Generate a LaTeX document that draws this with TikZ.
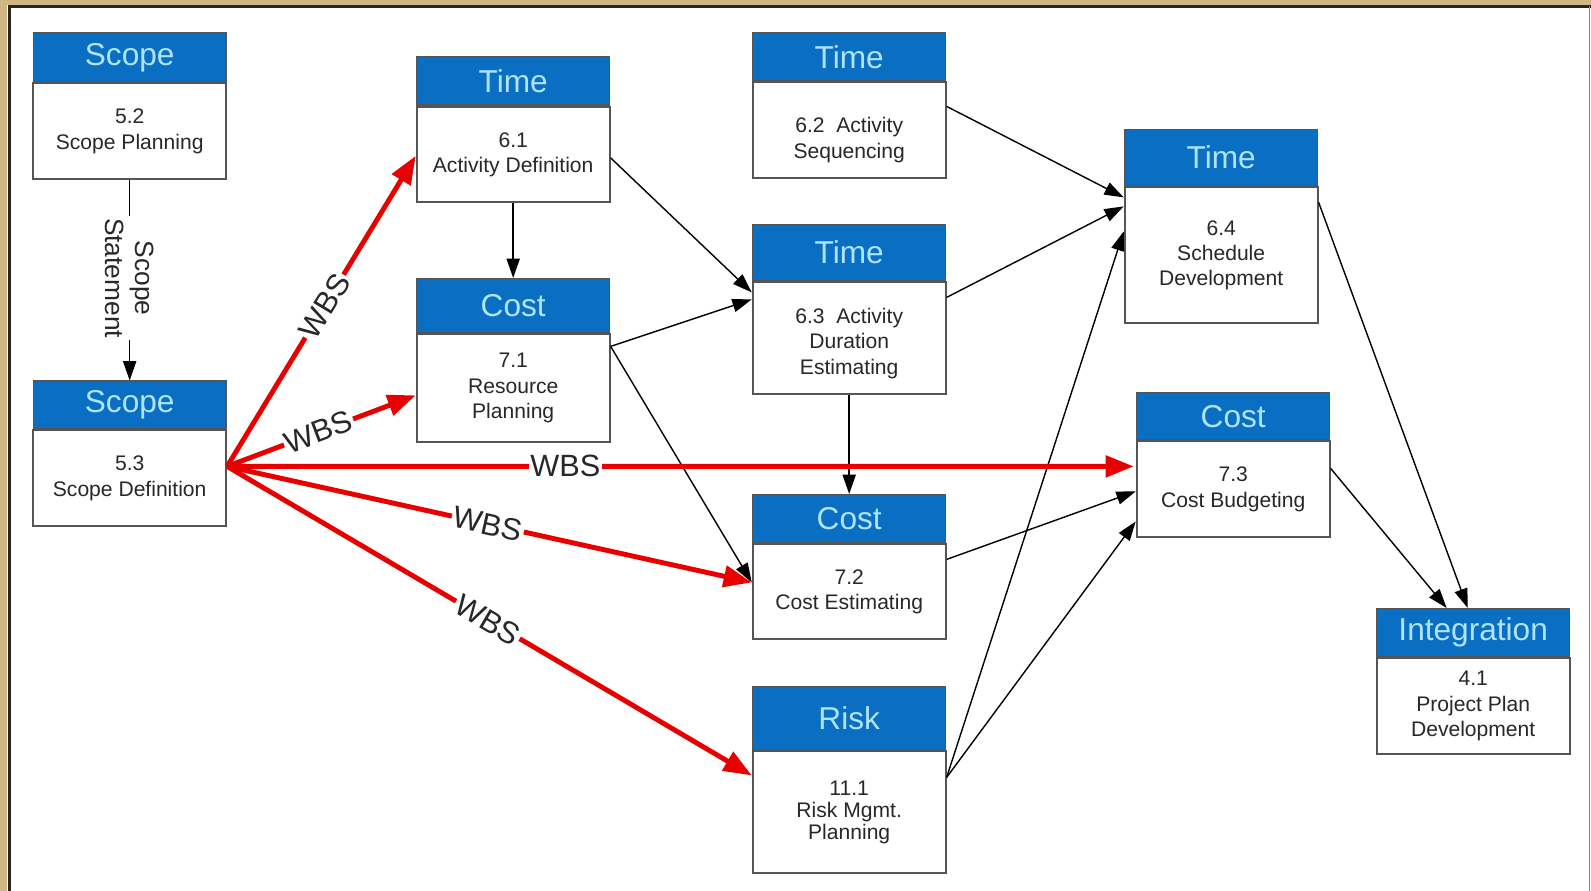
\documentclass[tikz,border=0pt]{standalone}
\usepackage{fontspec}
\setmainfont{Liberation Sans}
\usetikzlibrary{arrows.meta,calc}

\definecolor{azul}{RGB}{10,110,195}
\definecolor{celeste}{RGB}{175,228,255}
\definecolor{borde}{RGB}{85,85,85}
\definecolor{rojo}{RGB}{232,0,0}
\definecolor{marco}{RGB}{206,183,130}
\definecolor{texto}{RGB}{40,40,40}

\newcommand{\proceso}[7][]{%
  \node[cabecera, minimum height=#5, anchor=north west] (#2-h) at (#3) {#4};
  \node[cuerpo, minimum height=#6, anchor=north, #1] (#2) at (#2-h.south) {#7};}

\begin{document}
\begin{tikzpicture}[x=0.02cm, y=-0.02cm,
  cabecera/.style={draw=borde, fill=azul, line width=0.8pt, minimum width=3.86cm, text=celeste, font=\fontsize{18}{20}\selectfont},
  cuerpo/.style={draw=borde, fill=white, line width=1.1pt, minimum width=3.86cm, align=center, text=texto, font=\fontsize{12}{14.5}\selectfont},
  flecha/.style={-{Triangle[length=11pt,width=7.5pt]}, line width=0.8pt, black},
  wbs/.style={-{Triangle[length=16pt,width=12pt]}, line width=2.8pt, rojo},
  etiqueta/.style={sloped, fill=white, inner sep=1pt, text=texto, font=\fontsize{17.5}{20}\selectfont}]
  \useasboundingbox (0,0) rectangle (1591,891);
  % marco
  \fill[marco] (0,0) rectangle (1591,891);
  \fill[white] (7,5) rectangle (1591,891);
  \draw[black!85, line width=2pt] (9.5,891) -- (9.5,6.5) -- (1591,6.5);
  \draw[gray, line width=0.8pt] (1589.5,6.5) -- (1589.5,891);

  % procesos
  \proceso{sp}{32.5,32.5}{Scope}{0.97cm}{1.91cm}{5.2\\Scope Planning}
  \proceso{sd}{32.5,380.5}{Scope}{0.95cm}{1.91cm}{5.3\\Scope Definition}
  \proceso{ad}{416,56}{Time}{0.97cm}{1.91cm}{6.1\\Activity Definition}
  \proceso{rp}{416,278}{Cost}{1.08cm}{2.16cm}{7.1\\Resource\\Planning}
  \proceso{as}{752,32.5}{Time}{0.95cm}{1.91cm}{\rule{0pt}{20pt}6.2~~Activity\\Sequencing}
  \proceso{ade}{752,224}{Time}{1.12cm}{2.24cm}{\rule{0pt}{14.4pt}6.3~~Activity\\Duration\\Estimating}
  \proceso{ce}{752,494}{Cost}{0.96cm}{1.90cm}{7.2\\Cost Estimating}
  \proceso[font=\fontsize{12}{12.4}\selectfont]{rm}{752,686}{Risk}{1.26cm}{2.44cm}{11.1\\Risk Mgmt.\\Planning}
  \proceso{sdv}{1124,129}{Time}{1.12cm}{2.72cm}{6.4\\Schedule\\Development}
  \proceso{cb}{1136,392}{Cost}{0.94cm}{1.92cm}{7.3\\Cost Budgeting}
  \proceso{ppd}{1376,608}{Integration}{0.96cm}{1.92cm}{4.1\\Project Plan\\Development}

  % flujos negros
  \draw[flecha] (sp.south) -- node[pos=0.49, rotate=-90, fill=white, inner sep=1pt, align=center, text=texto,
    font=\fontsize{15}{17}\selectfont] (ss) {Scope\\Statement} (sd-h.north);
  \draw[flecha] (ad.south) -- (rp-h.north);
  \draw[flecha] ($(ad.north east)+(0,52)$) -- ($(ade.north west)+(0,11)$);
  \draw[flecha] ($(rp.north east)+(0,13)$) -- ($(ade.north west)+(0,18)$);
  \draw[flecha] ($(rp.north east)+(0,13)$) -- ($(ce.north west)+(0,39)$);
  \draw[flecha] ($(as.north east)+(0,25)$) -- ($(sdv.north west)+(0,11)$);
  \draw[flecha] ($(ade.north east)+(0,16)$) -- ($(sdv.north west)+(0,20)$);
  \draw[flecha] (ade.south) -- (ce-h.north);
  \draw[flecha] ($(rm.north east)+(0,27)$) -- ($(sdv.north west)+(0,45)$);
  \draw[flecha] ($(rm.north east)+(0,27)$) -- ($(cb.north west)+(0,81)$);
  \draw[flecha] ($(ce.north east)+(0,16)$) -- ($(cb.north west)+(0,51)$);
  \draw[flecha] ($(sdv.north east)+(0,16)$) -- ($(ppd-h.north)+(-5.5,0)$);
  \draw[flecha] ($(cb.north east)+(0,28)$) -- ($(ppd-h.north)+(-26.5,0)$);

  % WBS
  \draw[wbs] ($(sd.north east)+(0,37)$) -- node[etiqueta, pos=0.516] (w1) {WBS} ($(ad.north west)+(0,50)$);
  \draw[wbs] ($(sd.north east)+(0,37)$) -- node[etiqueta, pos=0.485] (w2) {WBS} ($(rp.north west)+(0,62)$);
  \draw[wbs] ($(sd.north east)+(0,37)$) -- node[etiqueta, pos=0.373] (w3) {WBS} ($(cb.north west)+(-2,26)$);
  \draw[wbs] ($(sd.north east)+(0,37)$) -- node[etiqueta, pos=0.497] (w4) {WBS} ($(ce.north west)+(0,39)$);
  \draw[wbs] ($(sd.north east)+(0,37)$) -- node[etiqueta, pos=0.497] (w5) {WBS} ($(rm.north west)+(0,25)$);
\end{tikzpicture}
\end{document}
